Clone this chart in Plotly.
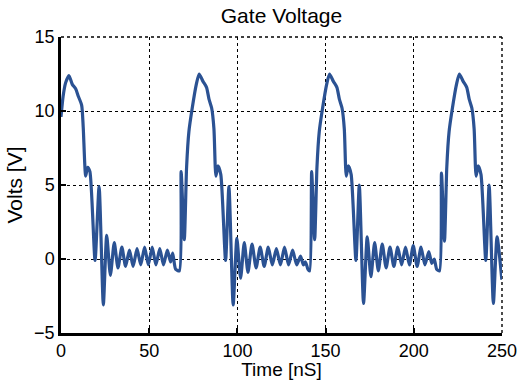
import plotly.graph_objects as go

# ---- data (time in ns, voltage in V) ----
cycle1_t = [0.0, 1.2, 2.6, 4.5, 6.4, 8.3, 9.8, 11.7, 12.6, 14.0, 15.1, 16.4,
            19.3, 21.6, 24.0, 25.9, 28.0, 30.2, 32.3, 34.5, 36.6, 38.8, 40.9,
            43.1, 45.2, 47.4, 49.5, 51.7, 53.8, 56.0, 58.1, 60.3, 62.1, 63.3,
            65.0, 67.1]
cycle1_v = [9.6, 11.0, 11.9, 12.4, 11.8, 11.5, 11.0, 10.4, 8.9, 5.6, 6.2, 5.9,
            -0.1, 4.9, -3.1, 1.6, -1.1, 1.1, -0.6, 0.8, -0.5, 0.6, -0.5,
            0.7, -0.4, 0.8, -0.4, 0.8, -0.4, 0.7, -0.4, 0.6, -0.2, 0.4,
            -0.7, -0.8]

cycle2_t = [68.1, 69.9, 71.2, 72.5, 74.4, 76.7, 78.3, 80.5, 82.5, 83.9, 85.4,
            86.7, 87.8, 89.0, 90.6, 93.3, 95.2, 97.6, 99.7, 101.8, 103.9,
            106.0, 108.3, 110.6, 112.9, 115.2, 117.5, 119.8, 122.1, 124.4,
            126.7, 129.0, 131.3, 133.6, 135.8, 137.4, 138.6, 140.0, 141.0]
cycle2_v = [5.9, 1.3, 6.2, 8.6, 10.2, 11.8, 12.5, 12.0, 11.6, 10.8, 10.2,
            8.8, 5.6, 6.3, 5.7, -0.1, 4.9, -3.1, 1.4, -1.3, 1.1,
            -0.9, 1.0, -0.6, 0.8, -0.5, 0.8, -0.4, 0.7, -0.4,
            0.8, -0.4, 0.6, -0.4, 0.2, -0.4, -0.2, -0.7, -0.8]

cycle3_t = [142.1, 143.8, 145.1, 146.4, 148.3, 150.6, 152.2, 154.4, 156.4,
            157.8, 159.3, 160.6, 161.7, 162.9, 164.5, 167.2, 169.1, 171.5,
            173.6, 175.7, 177.8, 179.9, 182.1, 184.3, 186.5, 188.7, 190.9,
            193.1, 195.3, 197.5, 199.7, 201.9, 204.1, 206.3, 208.5, 210.2,
            211.6, 213.0, 214.6]
cycle3_v = [5.9, 1.3, 6.2, 8.6, 10.2, 11.8, 12.5, 12.0, 11.6,
            10.8, 10.2, 8.8, 5.6, 6.3, 5.7, -0.1, 5.0, -3.0,
            1.5, -1.2, 1.1, -0.8, 1.0, -0.6, 0.8, -0.5, 0.8,
            -0.4, 0.8, -0.4, 0.9, -0.5, 0.8, -0.4, 0.5, -0.3,
            0.0, -0.7, -0.8]

cycle4_t = [215.7, 217.4, 218.7, 220.0, 221.9, 224.2, 225.8, 228.0, 230.0,
            231.4, 232.9, 234.2, 235.3, 236.5, 238.1, 240.8, 242.7, 245.1,
            247.2, 249.9]
cycle4_v = [5.8, 1.2, 6.2, 8.6, 10.2, 11.8, 12.5, 12.0, 11.6,
            10.8, 10.2, 8.8, 5.6, 6.3, 5.7, -0.1, 5.0, -3.0,
            1.5, -1.4]

x_ticks = [0, 50, 100, 150, 200, 250]
y_ticks = [-5, 0, 5, 10, 15]

time_ns = cycle1_t + cycle2_t + cycle3_t + cycle4_t
volts = cycle1_v + cycle2_v + cycle3_v + cycle4_v

FONT = "Arial, Liberation Sans, Helvetica, sans-serif"
LINE_COLOR = "#2b5293"

fig = go.Figure()
fig.add_trace(go.Scatter(
    x=time_ns, y=volts, mode="lines",
    line=dict(color=LINE_COLOR, width=3.2, shape="spline", smoothing=0.6),
    showlegend=False, hoverinfo="x+y",
))

axis_common = dict(
    showline=True, linecolor="black", linewidth=2.5, mirror=False,
    ticks="inside", ticklen=5, tickwidth=2, tickcolor="black",
    showgrid=True, gridcolor="black", griddash="dot", gridwidth=1.4,
    zeroline=False, automargin=False,
    tickfont=dict(family=FONT, size=18, color="black"),
)

# dotted frame lines at the top (y=15) and right (x=250), like the grid
for x0, y0, x1, y1 in [(0, 1, 1, 1), (1, 0, 1, 1)]:
    fig.add_shape(type="line", xref="paper", yref="paper",
                  x0=x0, y0=y0, x1=x1, y1=y1,
                  line=dict(color="black", width=1.4, dash="dot"),
                  layer="below")

fig.update_layout(
    width=519, height=380,
    margin=dict(l=61, r=17, t=37, b=47),
    paper_bgcolor="white", plot_bgcolor="white",
    title=dict(text="Gate Voltage", xref="paper", x=0.5, xanchor="center",
               y=1 - 16 / 380, yanchor="middle",
               font=dict(family=FONT, size=21, color="black")),
    xaxis=dict(range=[0, 250], tickvals=x_ticks,
               title=dict(text="Time [nS]", standoff=5,
                          font=dict(family=FONT, size=19, color="black")),
               **axis_common),
    yaxis=dict(range=[-5, 15], tickvals=y_ticks,
               title=dict(text="Volts [V]", standoff=6,
                          font=dict(family=FONT, size=21, color="black")),
               **axis_common),
)

# remove the page's default body margin so the 519x380 figure fills the window
fig.write_html("out.html",
               config={"displayModeBar": False},
               post_script="document.body.style.margin='0';"
                           "document.body.style.overflow='hidden';")
